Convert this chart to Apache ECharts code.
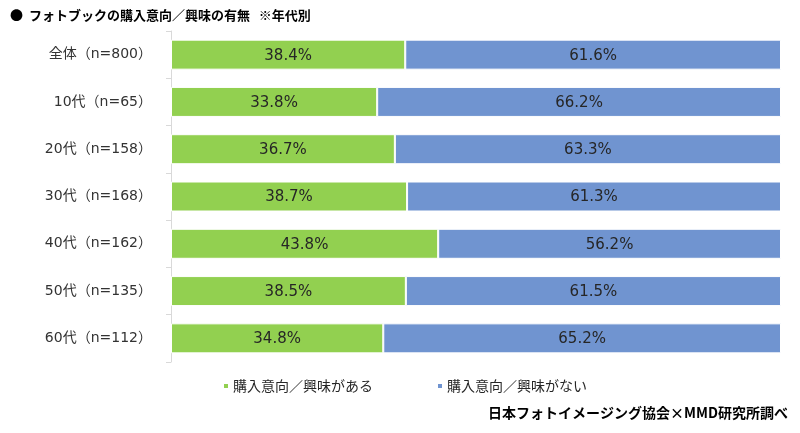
<html>
<head>
    <script src="https://cdn.jsdelivr.net/npm/echarts@6/dist/echarts.min.js"></script>
</head>
<style>
    body {
        margin: 0;
        background: #fff;
    }

    #chart {
        width: 800px;
        height: 433px;
    }
</style>

<body>
    <div id="chart"></div>
    <script>
        // 年代別カテゴリ
        const categories = ['全体（n=800）', '10代（n=65）', '20代（n=158）', '30代（n=168）', '40代（n=162）', '50代（n=135）', '60代（n=112）']
        const seriesNames = ['購入意向／興味がある', '購入意向／興味がない']
        const yesValues = [38.4, 33.8, 36.7, 38.7, 43.8, 38.5, 34.8]
        const noValues = [61.6, 66.2, 63.3, 61.3, 56.2, 61.5, 65.2]

        const font = '"Noto Sans CJK JP", "Noto Sans", sans-serif'
        // 数字は幅広のDejaVuで、和文はNotoにフォールバック
        const wideFont = '"DejaVu Sans", "Noto Sans CJK JP", sans-serif'

        const chart = echarts.init(document.getElementById('chart'))

        function barSeries(name, data, color) {
            return {
                name: name,
                type: 'bar',
                stack: 'total',
                barWidth: 30,
                data: data,
                itemStyle: {
                    color: color,
                    borderColor: '#fff',
                    borderWidth: 1
                },
                label: {
                    show: true,
                    position: 'inside',
                    offset: [0, 1],
                    color: '#262626',
                    fontSize: 15,
                    fontFamily: wideFont,
                    formatter: function (p) {
                        return p.value.toFixed(1) + '%'
                    }
                }
            }
        }

        const option = {
            animation: false,
            textStyle: { fontFamily: font },
            grid: {
                left: 171,
                right: 19,
                top: 31,
                height: 331
            },
            xAxis: {
                type: 'value',
                min: 0,
                max: 100,
                show: false
            },
            yAxis: {
                type: 'category',
                inverse: true,
                data: categories,
                axisLine: { lineStyle: { color: '#d9d9d9' } },
                axisTick: { show: true, length: 5, lineStyle: { color: '#d9d9d9' } },
                axisLabel: {
                    color: '#333',
                    fontSize: 14,
                    margin: 19,
                    fontFamily: wideFont
                }
            },
            legend: {
                data: seriesNames,
                left: 217,
                top: 374,
                icon: 'rect',
                itemWidth: 6,
                itemHeight: 6,
                itemGap: 63,
                textStyle: { color: '#262626', fontSize: 14, fontFamily: font, padding: [0, 0, 0, -1] }
            },
            graphic: [
                {
                    type: 'text',
                    left: 10,
                    top: 9,
                    style: {
                        text: '●  フォトブックの購入意向／興味の有無   ※年代別',
                        fill: '#000',
                        font: 'bold 13px ' + font
                    }
                },
                {
                    type: 'text',
                    right: 12,
                    top: 406,
                    style: {
                        text: '日本フォトイメージング協会×MMD研究所調べ',
                        fill: '#000',
                        font: 'bold 14px ' + font
                    }
                }
            ],
            series: [
                barSeries(seriesNames[0], yesValues, '#92d050'),
                barSeries(seriesNames[1], noValues, '#7094d0')
            ]
        }

        chart.setOption(option)
    </script>
</body>

</html>
